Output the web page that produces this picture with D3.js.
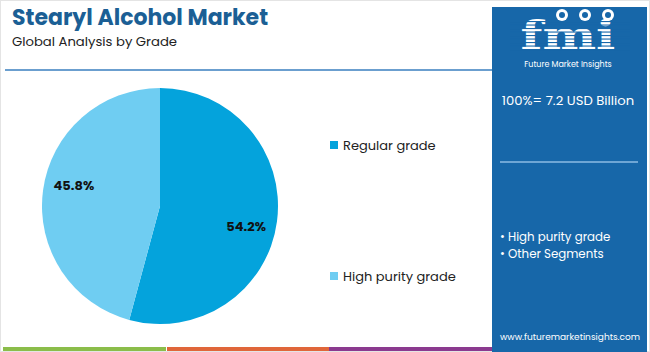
<!DOCTYPE html>
<html>
<head>
<meta charset="utf-8">
<script src="https://cdn.jsdelivr.net/npm/d3@7/dist/d3.min.js"></script>
<style>
  body { margin: 0; background: #fff; }
  svg { display: block; font-family: "Poppins", "Open Sans", Roboto, sans-serif; }
</style>
</head>
<body>
<script>
(function() {

    var width = 650;
    var height = 352;

    // chart data
    const grades = ["Regular grade", "High purity grade"];
    const shares = [54.2, 45.8];
    const colors = ["#04a3dc", "#6fcdf2"];
    const panelBullets = ["High purity grade", "Other Segments"];
    const totalLabel = "100%= 7.2 USD Billion";

    const svg = d3.select("body")
      .append("svg")
      .attr("width", width)
      .attr("height", height);

    // light frame
    svg.append("rect")
        .attr("x", 0.5).attr("y", 0.5)
        .attr("width", width - 1).attr("height", height - 1)
        .attr("fill", "#fff")
        .attr("stroke", "#e4e4e4");

    // title
    svg.append("text")
        .attr("x", 12).attr("y", 25)
        .attr("font-size", 22)
        .attr("font-weight", 700)
        .attr("fill", "#1b5f95")
        .text("Stearyl Alcohol Market");

    svg.append("text")
        .attr("x", 12).attr("y", 46)
        .attr("font-size", 13.2)
        .attr("fill", "#222")
        .text("Global Analysis by Grade");

    svg.append("line")
        .attr("x1", 5).attr("x2", 492)
        .attr("y1", 70).attr("y2", 70)
        .attr("stroke", "#6b9fcf")
        .attr("stroke-width", 2);

    // pie
    const cx = 160, cy = 206, r = 118;
    const pie = d3.pie().sort(null).value(d => d);
    const arcs = pie(shares);
    const arc = d3.arc().innerRadius(0).outerRadius(r);
    const labelArc = d3.arc().innerRadius(r * 0.75).outerRadius(r * 0.75);

    const g = svg.append("g").attr("transform", "translate(" + cx + "," + cy + ")");

    g.selectAll("path")
        .data(arcs)
        .enter()
        .append("path")
        .attr("d", arc)
        .attr("fill", (d, i) => colors[i]);

    // labels sit a little clockwise of the slice middle
    g.selectAll("text")
        .data(arcs)
        .enter()
        .append("text")
        .attr("transform", d => "translate(" + labelArc.centroid({
            startAngle: d.startAngle + 0.1, endAngle: d.endAngle + 0.1 }) + ")")
        .attr("text-anchor", "middle")
        .attr("dy", "0.35em")
        .attr("font-size", 13)
        .attr("font-weight", 700)
        .attr("fill", "#111")
        .text(d => d.data.toFixed(1) + "%");

    // legend
    const legendY = d3.scaleOrdinal().domain(grades).range([145, 276]);
    const legend = svg.selectAll(".legend")
        .data(grades)
        .enter()
        .append("g")
        .attr("class", "legend")
        .attr("transform", d => "translate(330," + legendY(d) + ")");

    legend.append("rect")
        .attr("x", 0).attr("y", -4)
        .attr("width", 8).attr("height", 8)
        .attr("fill", (d, i) => colors[i]);

    legend.append("text")
        .attr("x", 13).attr("y", 5)
        .attr("font-size", 13)
        .attr("fill", "#222")
        .text(d => d);

    // bottom colour strip
    const strip = [["#8bbd4a", 3, 166], ["#e0663a", 167, 329], ["#8b3a8f", 329, 492]];
    svg.selectAll(".strip")
        .data(strip)
        .enter()
        .append("rect")
        .attr("x", d => d[1])
        .attr("y", 347)
        .attr("width", d => d[2] - d[1])
        .attr("height", 4)
        .attr("fill", d => d[0]);

    // right panel
    const px = 492;
    svg.append("rect")
        .attr("x", px).attr("y", 7)
        .attr("width", width - px - 3).attr("height", height - 7)
        .attr("fill", "#1767a9");

    // logo
    const logo = svg.append("g");
    logo.append("text")
        .attr("transform", "translate(568,49) scale(1.45,1.12)")
        .attr("text-anchor", "middle")
        .attr("font-family", "DejaVu Serif, serif")
        .attr("font-weight", 700)
        .attr("font-size", 35)
        .attr("fill", "#fff")
        .text("fmi");
    // stripes over the logo letters
    d3.range(21, 50, 3.5).forEach(y => {
        logo.append("rect")
            .attr("x", 510).attr("y", y)
            .attr("width", 120).attr("height", 1.1)
            .attr("fill", "#1767a9");
    });
    [562, 585, 608].forEach(x => {
        logo.append("circle")
            .attr("cx", x).attr("cy", 15)
            .attr("r", 6)
            .attr("fill", "#fff");
        logo.append("circle")
            .attr("cx", x).attr("cy", 15)
            .attr("r", 3)
            .attr("fill", "#1767a9");
    });
    svg.append("text")
        .attr("x", 568).attr("y", 67)
        .attr("text-anchor", "middle")
        .attr("font-size", 8)
        .attr("fill", "#fff")
        .text("Future Market Insights");

    svg.append("text")
        .attr("x", 568).attr("y", 105)
        .attr("text-anchor", "middle")
        .attr("font-size", 13.2)
        .attr("fill", "#fff")
        .text(totalLabel);

    svg.append("line")
        .attr("x1", 500).attr("x2", 638)
        .attr("y1", 162).attr("y2", 162)
        .attr("stroke", "#8cbbe4")
        .attr("stroke-width", 1.5);

    svg.selectAll(".bullet")
        .data(panelBullets)
        .enter()
        .append("text")
        .attr("x", 500)
        .attr("y", (d, i) => 241 + i * 17)
        .attr("font-size", 11.8)
        .attr("fill", "#fff")
        .text(d => "\u2022 " + d);

    svg.append("text")
        .attr("x", 570).attr("y", 340)
        .attr("text-anchor", "middle")
        .attr("font-size", 9)
        .attr("fill", "#fff")
        .text("www.futuremarketinsights.com");

})();
</script>
</body>
</html>
